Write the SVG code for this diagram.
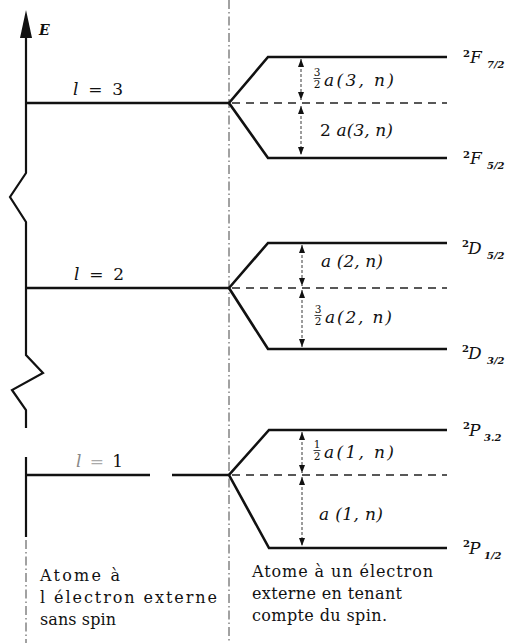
<svg xmlns="http://www.w3.org/2000/svg" width="514" height="643" viewBox="0 0 514 643">
  <style>
    .lvl { stroke: #111; stroke-width: 2.6; fill: none; stroke-linejoin: miter; }
    .mid { stroke: #222; stroke-width: 1.3; stroke-dasharray: 8 6; fill: none; }
    .sep { stroke: #444; stroke-width: 1; stroke-dasharray: 9 3 1.5 3; fill: none; }
    .gap { stroke: #222; stroke-width: 0.9; stroke-dasharray: 3 2; fill: none; marker-start: url(#tip); marker-end: url(#tip); }
    .axis { stroke: #111; stroke-width: 2.2; fill: none; stroke-linejoin: miter; }
    text { font-family: "DejaVu Serif", "Liberation Serif", serif; fill: #111; }
    .it { font-style: italic; }
    .lab { font-size: 17px; }
    .frac { font-size: 10.5px; text-anchor: middle; }
    .term { font-size: 17px; font-style: italic; }
    .sup { font-size: 10px; font-style: normal; font-weight: bold; }
    .sub { font-size: 10px; font-style: italic; font-weight: bold; }
    .cap { font-size: 16px; }
  </style>
  <defs>
    <marker id="tip" viewBox="0 0 8 6" refX="8" refY="3" markerWidth="8" markerHeight="6" markerUnits="userSpaceOnUse" orient="auto-start-reverse">
      <path d="M0,0 L8,3 L0,6 z" fill="#111"/>
    </marker>
  </defs>

  <!-- energy axis with broken segments -->
  <g id="axis">
    <path d="M26,10 L20,38 L32,38 z" fill="#111"/>
    <polyline class="axis" points="26,36 26,173 10,197 26,222 26,355 43,373 12,390 26,410 26,428"/>
    <line class="axis" x1="26" y1="457" x2="26" y2="537"/>
    <line class="sep" x1="26" y1="540" x2="26" y2="643"/>
    <text x="39" y="35" class="it" font-size="14" font-weight="bold">E</text>
  </g>

  <!-- separator between the two columns -->
  <g id="separator">
    <line class="sep" x1="229" y1="0" x2="229" y2="643"/>
  </g>

  <!-- l = 3 : F terms -->
  <g id="level-l3">
    <line class="lvl" x1="26" y1="103" x2="229" y2="103"/>
    <text x="73" y="95" class="lab" textLength="50" lengthAdjust="spacing"><tspan class="it">l</tspan> = 3</text>
  </g>
  <g id="split-F">
    <polyline class="lvl" points="447,57 268,57 229,103 268,158 447,158"/>
    <line class="mid" x1="232" y1="103" x2="447" y2="103"/>
    <text x="463" y="57" class="sup">2</text>
    <text x="470" y="63" class="term">F</text>
    <text x="487" y="68" class="sub">7/2</text>
    <text x="463" y="158" class="sup">2</text>
    <text x="470" y="164" class="term">F</text>
    <text x="487" y="169" class="sub">5/2</text>
  </g>

  <!-- l = 2 : D terms -->
  <g id="level-l2">
    <line class="lvl" x1="26" y1="288" x2="229" y2="288"/>
    <text x="74" y="280" class="lab" textLength="50" lengthAdjust="spacing"><tspan class="it">l</tspan> = 2</text>
  </g>
  <g id="split-D">
    <polyline class="lvl" points="447,243 268,243 229,288 268,349 447,349"/>
    <line class="mid" x1="232" y1="288" x2="447" y2="288"/>
    <text x="462" y="247" class="sup">2</text>
    <text x="468" y="254" class="term">D</text>
    <text x="487" y="259" class="sub">5/2</text>
    <text x="462" y="352" class="sup">2</text>
    <text x="468" y="359" class="term">D</text>
    <text x="487" y="364" class="sub">3/2</text>
  </g>

  <!-- l = 1 : P terms -->
  <g id="level-l1">
    <line class="lvl" x1="26" y1="475" x2="150" y2="475"/>
    <line class="lvl" x1="172" y1="475" x2="229" y2="475"/>
    <text x="76" y="467" class="lab" textLength="47" lengthAdjust="spacing"><tspan class="it" fill="#888">l</tspan><tspan fill="#aaa"> = </tspan>1</text>
  </g>
  <g id="split-P">
    <polyline class="lvl" points="447,430 269,430 229,475 269,548 447,548"/>
    <line class="mid" x1="232" y1="475" x2="447" y2="475"/>
    <text x="463" y="429" class="sup">2</text>
    <text x="469" y="436" class="term">P</text>
    <text x="484" y="441" class="sub">3.2</text>
    <text x="463" y="547" class="sup">2</text>
    <text x="469" y="554" class="term">P</text>
    <text x="484" y="559" class="sub">1/2</text>
  </g>

  <!-- splitting intervals: double-headed dashed arrows -->
  <g id="connectors">
    <line class="gap" x1="301" y1="59" x2="301" y2="100"/>
    <line class="gap" x1="301" y1="106" x2="301" y2="155"/>

    <line class="gap" x1="302" y1="245" x2="302" y2="286"/>
    <line class="gap" x1="302" y1="290" x2="302" y2="347"/>

    <line class="gap" x1="302" y1="432" x2="302" y2="473"/>
    <line class="gap" x1="302" y1="477" x2="302" y2="546"/>
  </g>

  <g id="interval-labels">
    <text x="317" y="76" class="frac">3</text>
    <line x1="313.5" y1="78.5" x2="320.5" y2="78.5" stroke="#111" stroke-width="0.8"/>
    <text x="317" y="88" class="frac">2</text>
    <text x="324" y="86" class="lab it" textLength="70" lengthAdjust="spacing">a(3, n)</text>

    <text x="320" y="136" class="lab it" textLength="73" lengthAdjust="spacing"><tspan font-style="normal">2 </tspan>a(3, n)</text>

    <text x="321" y="267" class="lab it" textLength="62" lengthAdjust="spacing">a (2, n)</text>

    <text x="318" y="313" class="frac">3</text>
    <line x1="314.5" y1="315.5" x2="321.5" y2="315.5" stroke="#111" stroke-width="0.8"/>
    <text x="318" y="325" class="frac">2</text>
    <text x="325" y="323" class="lab it" textLength="67" lengthAdjust="spacing">a(2, n)</text>

    <text x="317" y="448" class="frac">1</text>
    <line x1="313.5" y1="450.5" x2="320.5" y2="450.5" stroke="#111" stroke-width="0.8"/>
    <text x="317" y="460" class="frac">2</text>
    <text x="324" y="458" class="lab it" textLength="70" lengthAdjust="spacing">a(1, n)</text>

    <text x="319" y="520" class="lab it" textLength="64" lengthAdjust="spacing">a (1, n)</text>
  </g>

  <!-- column captions -->
  <g id="caption-left">
    <text x="40" y="581" class="cap" textLength="80" lengthAdjust="spacing">Atome à</text>
    <text x="40" y="603" class="cap" textLength="177" lengthAdjust="spacing">l électron externe</text>
    <text x="40" y="625" class="cap" textLength="76" lengthAdjust="spacing">sans spin</text>
  </g>
  <g id="caption-right">
    <text x="252" y="577" class="cap" textLength="181" lengthAdjust="spacing">Atome à un électron</text>
    <text x="252" y="599" class="cap" textLength="150" lengthAdjust="spacing">externe en tenant</text>
    <text x="252" y="621" class="cap" textLength="135" lengthAdjust="spacing">compte du spin.</text>
  </g>
</svg>
